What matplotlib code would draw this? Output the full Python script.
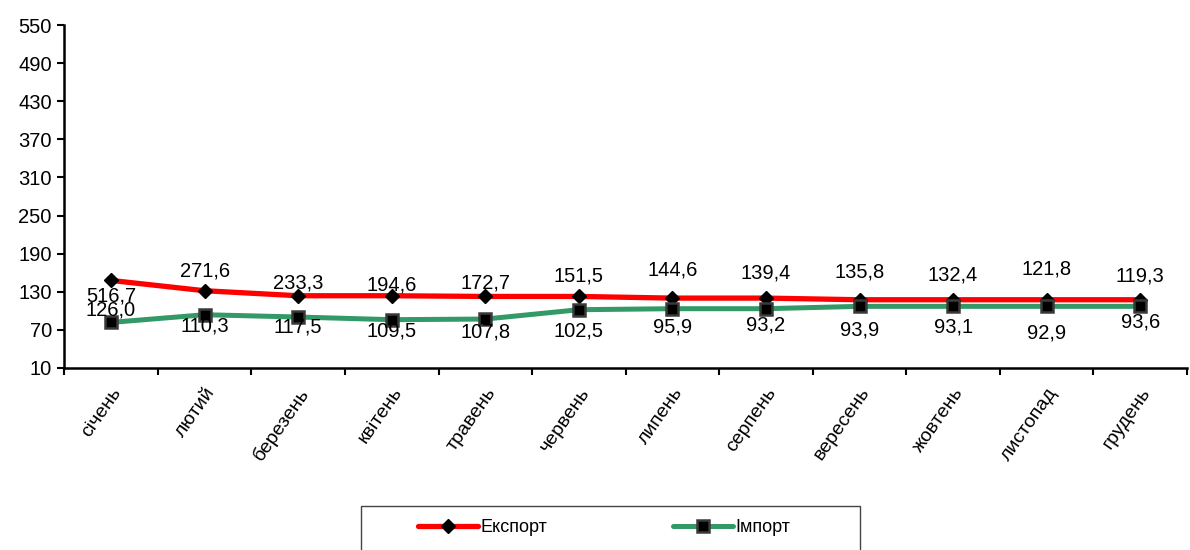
import matplotlib.pyplot as plt
from matplotlib.patches import Rectangle
import numpy as np

plt.rcParams['font.family'] = ['Liberation Sans', 'DejaVu Sans']

months = ['січень', 'лютий', 'березень', 'квітень', 'травень', 'червень',
          'липень', 'серпень', 'вересень', 'жовтень', 'листопад', 'грудень']

# plotted positions of the lines (as drawn in the source chart)
export_vals = [147.8, 131.6, 123.7, 123.7, 122.6, 122.6, 120.0, 120.0, 117.4, 117.4, 117.4, 117.4]
import_vals = [81.7, 93.8, 90.2, 86.0, 87.0, 101.7, 103.3, 103.3, 107.0, 107.0, 107.0, 107.0]

# data label texts
export_labels = ['516,7', '271,6', '233,3', '194,6', '172,7', '151,5',
                 '144,6', '139,4', '135,8', '132,4', '121,8', '119,3']
import_labels = ['126,0', '110,3', '117,5', '109,5', '107,8', '102,5',
                 '95,9', '93,2', '93,9', '93,1', '92,9', '93,6']

yticks = [10, 70, 130, 190, 250, 310, 370, 430, 490, 550]

# label offsets in points (layout only)
exp_off = [-11.5, 14, 9, 8, 10, 15, 20, 18, 20, 18, 22, 17]
imp_off = [9, -8, -7, -8, -9, -15, -13, -12, -17, -15, -19, -11]


def main():
    fig = plt.figure(figsize=(11.9, 5.5), dpi=100)
    ax = fig.add_axes([0.054, 0.331, 0.9435, 0.6235])

    x = np.arange(len(months))
    ax.plot(x, export_vals, color='#ff0000', lw=3.8, marker='D', ms=7.5,
            mfc='black', mec='black', label='Експорт', zorder=3,
            solid_capstyle='round')
    ax.plot(x, import_vals, color='#339966', lw=3.6, marker='s', ms=8.5,
            mfc='black', mec='#3a3a3a', mew=1.8, label='Імпорт', zorder=3,
            solid_capstyle='round')

    for i in range(len(months)):
        ax.annotate(export_labels[i], (x[i], export_vals[i]), xytext=(0, exp_off[i]),
                    textcoords='offset points', ha='center', va='center',
                    fontsize=14.5, zorder=5)
        ax.annotate(import_labels[i], (x[i], import_vals[i]), xytext=(0, imp_off[i]),
                    textcoords='offset points', ha='center', va='center',
                    fontsize=14.5, zorder=5)

    ax.set_xlim(-0.5, len(months) - 0.5)
    ax.set_ylim(10, 550)
    ax.set_yticks(yticks)
    ax.tick_params(axis='y', labelsize=14.5, length=5, width=1.5, direction='out', pad=4)

    ax.set_xticks(x)
    ax.set_xticklabels(months, rotation=55, ha='right', va='top',
                       rotation_mode='anchor', fontsize=14)
    ax.set_xticks(np.arange(-0.5, len(months)), minor=True)
    ax.tick_params(axis='x', which='major', length=0, pad=12)
    ax.tick_params(axis='x', which='minor', length=5, width=1.5, direction='out')

    for s in ['top', 'right']:
        ax.spines[s].set_visible(False)
    for s in ['left', 'bottom']:
        ax.spines[s].set_linewidth(1.8)

    # legend frame, running off the bottom edge as in the source
    fig.patches.append(Rectangle((361 / 1190, -0.05), 499 / 1190, 0.05 + 44 / 550,
                                 transform=fig.transFigure, fill=False,
                                 edgecolor='#444444', lw=1.0))
    fig.legend(loc='center left', bbox_to_anchor=(418 / 1190, 1 - 528 / 550),
               ncol=2, fontsize=13, frameon=False, handlelength=3.3,
               handletextpad=0.15, columnspacing=7.0, borderaxespad=0,
               borderpad=0)

    fig.savefig('out.png', dpi=100)


main()
